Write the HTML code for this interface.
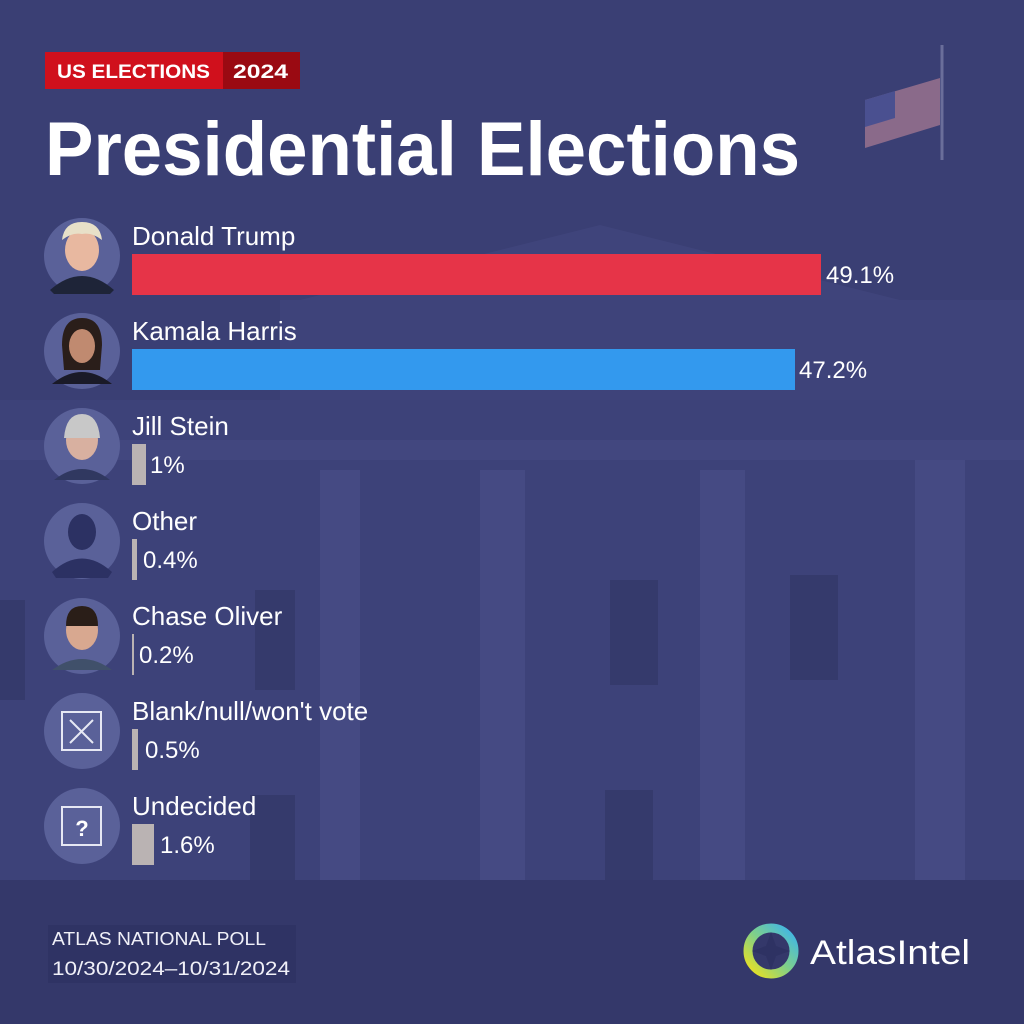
<!DOCTYPE html>
<html><head><meta charset="utf-8"><style>
html,body{margin:0;padding:0;background:#3a3f74;}
svg{display:block;font-family:"Liberation Sans",sans-serif;}
</style></head><body>
<svg width="1024" height="1024" viewBox="0 0 1024 1024" xmlns="http://www.w3.org/2000/svg">
<defs>
<linearGradient id="lg" x1="0" y1="1" x2="1" y2="0"><stop offset="0" stop-color="#f2e21a"/><stop offset="0.5" stop-color="#7fd08a"/><stop offset="1" stop-color="#3bb4ee"/></linearGradient>
</defs>
<rect width="1024" height="1024" fill="#3a3f74"/>
<!-- building -->
<polygon points="300,300 600,225 900,300" fill="#3f447b"/>
<rect x="280" y="300" width="744" height="100" fill="#3e437a"/>
<rect x="0" y="400" width="1024" height="480" fill="#3d4279"/>
<rect x="0" y="440" width="1024" height="20" fill="#42477f"/>
<g fill="#454a83">
<rect x="320" y="470" width="40" height="420"/><rect x="480" y="470" width="45" height="420"/>
<rect x="700" y="470" width="45" height="420"/><rect x="915" y="460" width="50" height="430"/>
</g>
<g fill="#353a6c">
<rect x="0" y="600" width="25" height="100"/><rect x="255" y="590" width="40" height="100"/>
<rect x="610" y="580" width="48" height="105"/><rect x="790" y="575" width="48" height="105"/>
<rect x="250" y="795" width="45" height="90"/><rect x="605" y="790" width="48" height="100"/>
</g>
<rect x="0" y="880" width="1024" height="144" fill="#34386a"/>
<!-- flag -->
<line x1="942" y1="45" x2="942" y2="160" stroke="#6a6e9a" stroke-width="3"/>
<polygon points="865,100 940,78 940,125 865,148" fill="#8a6a8a"/>
<polygon points="865,100 895,91 895,118 865,127" fill="#4a5090"/>
<!-- badge -->
<rect x="45" y="52" width="178" height="37" fill="#d0101c"/>
<rect x="223" y="52" width="77" height="37" fill="#9a0a12"/>
<text x="57" y="78" fill="#fff" font-size="19" font-weight="bold" textLength="153" lengthAdjust="spacingAndGlyphs">US ELECTIONS</text>
<text x="233" y="78" fill="#fff" font-size="19" font-weight="bold" textLength="55" lengthAdjust="spacingAndGlyphs">2024</text>
<text x="45" y="175" fill="#fff" font-size="76" font-weight="bold" textLength="755" lengthAdjust="spacingAndGlyphs">Presidential Elections</text>
<!-- rows -->
<g fill="#5a6199">
<circle cx="82" cy="256" r="38"/><circle cx="82" cy="351" r="38"/><circle cx="82" cy="446" r="38"/>
<circle cx="82" cy="541" r="38"/><circle cx="82" cy="636" r="38"/><circle cx="82" cy="731" r="38"/><circle cx="82" cy="826" r="38"/>
</g>
<ellipse cx="82" cy="250" rx="17" ry="21" fill="#e8b8a0"/><path d="M62,240 Q64,222 82,222 Q100,222 102,240 Q92,232 82,234 Q72,232 62,240Z" fill="#e8e0c8"/><path d="M50,290 Q82,262 114,290 L110,294 L54,294Z" fill="#1e2438"/>
<path d="M62,345 Q62,318 82,318 Q102,318 102,345 L100,370 L64,370Z" fill="#2a1e1a"/><ellipse cx="82" cy="346" rx="13" ry="17" fill="#c08a70"/><path d="M52,384 Q82,360 112,384Z" fill="#1a1a28"/>
<ellipse cx="82" cy="440" rx="16" ry="20" fill="#d8b0a0"/><path d="M64,438 Q66,414 82,414 Q98,414 100,438" fill="#c8c8c8"/><path d="M54,480 Q82,458 110,480Z" fill="#303860"/>
<ellipse cx="82" cy="532" rx="14" ry="18" fill="#2c3163"/><path d="M52,572 Q82,545 112,572 L108,578 L56,578Z" fill="#2c3163"/>
<ellipse cx="82" cy="630" rx="16" ry="20" fill="#d8a890"/><path d="M66,626 Q66,606 82,606 Q98,606 98,626" fill="#2a1e18"/><path d="M52,670 Q82,648 112,670Z" fill="#40506a"/>
<rect x="62" y="712" width="39" height="38" fill="none" stroke="#e6e8f4" stroke-width="2"/>
<path d="M70,720 L93,743 M93,720 L70,743" stroke="#e6e8f4" stroke-width="2"/>
<rect x="62" y="807" width="39" height="38" fill="none" stroke="#e6e8f4" stroke-width="2"/>
<text x="82" y="836" fill="#fff" font-size="22" font-weight="bold" text-anchor="middle">?</text>
<g fill="#fff" font-size="26">
<text x="132" y="245">Donald Trump</text>
<text x="132" y="340">Kamala Harris</text>
<text x="132" y="435">Jill Stein</text>
<text x="132" y="530">Other</text>
<text x="132" y="625">Chase Oliver</text>
<text x="132" y="720">Blank/null/won't vote</text>
<text x="132" y="815">Undecided</text>
</g>
<rect x="132" y="254" width="689" height="41" fill="#e63448"/>
<rect x="132" y="349" width="663" height="41" fill="#3399ee"/>
<g fill="#bab3b3">
<rect x="132" y="444" width="14" height="41"/>
<rect x="132" y="539" width="5" height="41"/>
<rect x="132" y="634" width="2" height="41"/>
<rect x="132" y="729" width="6" height="41"/>
<rect x="132" y="824" width="22" height="41"/>
</g>
<g fill="#fff" font-size="24">
<text x="826" y="283">49.1%</text>
<text x="799" y="378">47.2%</text>
<text x="150" y="473">1%</text>
<text x="143" y="568">0.4%</text>
<text x="139" y="663">0.2%</text>
<text x="145" y="758">0.5%</text>
<text x="160" y="853">1.6%</text>
</g>
<rect x="48" y="925" width="248" height="58" fill="#2e3263" opacity="0.7"/>
<text x="52" y="945" fill="#f0f0f8" font-size="18" textLength="214" lengthAdjust="spacingAndGlyphs">ATLAS NATIONAL POLL</text>
<text x="52" y="975" fill="#f0f0f8" font-size="19" textLength="238" lengthAdjust="spacingAndGlyphs">10/30/2024–10/31/2024</text>
<circle cx="771" cy="951" r="23" fill="none" stroke="url(#lg)" stroke-width="9"/>
<polygon points="771,932 776,946 790,951 776,956 771,970 766,956 752,951 766,946" fill="#2e3263"/>
<text x="810" y="964" fill="#fff" font-size="34" textLength="160" lengthAdjust="spacingAndGlyphs">AtlasIntel</text>
</svg>
</body></html>
